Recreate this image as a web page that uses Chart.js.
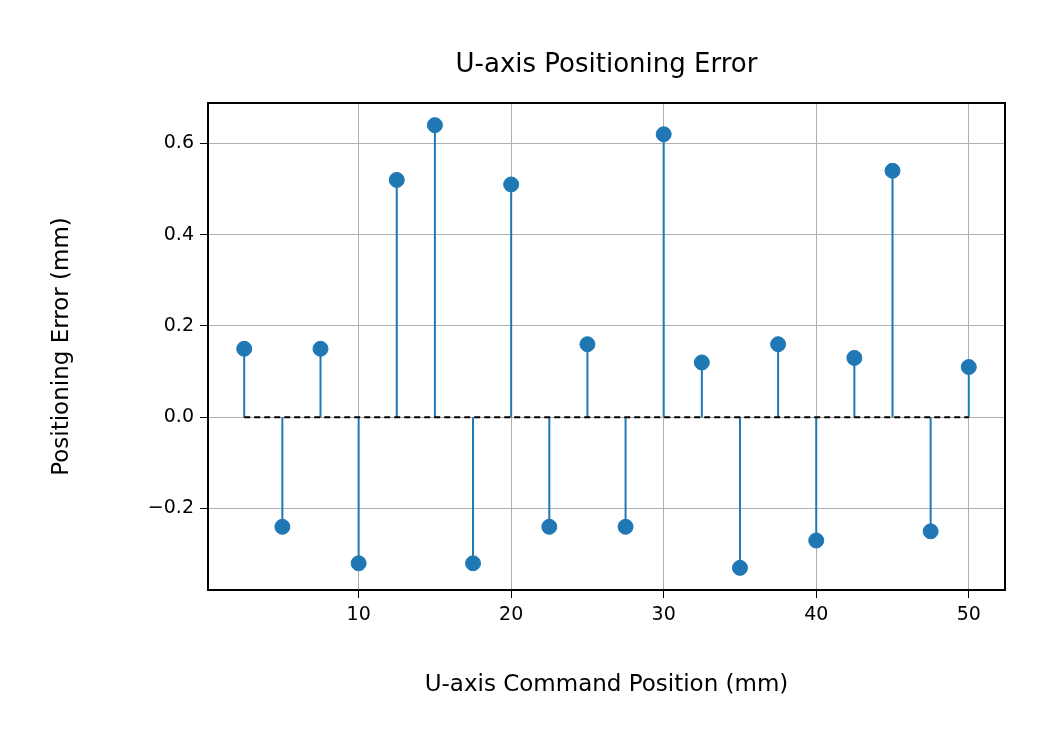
<!DOCTYPE html>
<html><head><meta charset="utf-8">
<script src="https://cdn.jsdelivr.net/npm/chart.js@4/dist/chart.umd.min.js"></script>
<style>html,body{margin:0;padding:0;background:#fff}#w{width:1050px;height:750px}</style>
</head><body><div id="w"><canvas id="c"></canvas></div>
<script>
const positions = [2.5,5,7.5,10,12.5,15,17.5,20,22.5,25,27.5,30,32.5,35,37.5,40,42.5,45,47.5,50];
const errors = [0.15,-0.24,0.15,-0.32,0.52,0.64,-0.32,0.51,-0.24,0.16,-0.24,0.62,0.12,-0.33,0.16,-0.27,0.13,0.54,-0.25,0.11];
const xTicks = [10,20,30,40,50];
const yTicks = [-0.2,0,0.2,0.4,0.6];
const titleText = 'U-axis Positioning Error';
const xTitle = 'U-axis Command Position (mm)';
const yTitle = 'Positioning Error (mm)';
const blue = '#1f77b4';
const F = 'DejaVu Sans';
const stems = {
  id:'stems',
  beforeDatasetsDraw(chart){
    const {ctx, scales:{x,y}} = chart;
    ctx.save(); ctx.strokeStyle = blue; ctx.lineWidth = 2;
    const y0 = y.getPixelForValue(0);
    positions.forEach((p,i)=>{
      const px = x.getPixelForValue(p);
      ctx.beginPath(); ctx.moveTo(px,y0); ctx.lineTo(px,y.getPixelForValue(errors[i])); ctx.stroke();
    });
    ctx.restore();
  }
};
const frame = {
  id:'frame',
  afterDraw(chart){
    const {ctx, chartArea:a} = chart;
    ctx.save(); ctx.strokeStyle='#000'; ctx.lineWidth=2;
    ctx.strokeRect(a.left,a.top,a.right-a.left,a.bottom-a.top);
    ctx.fillStyle='#000'; ctx.textAlign='center'; ctx.textBaseline='middle';
    const cx=(a.left+a.right)/2, cy=(a.top+a.bottom)/2;
    ctx.font='26px "'+F+'"'; ctx.fillText(titleText,cx,65);
    ctx.font='23px "'+F+'"'; ctx.fillText(xTitle,cx,685);
    ctx.translate(62,cy); ctx.rotate(-Math.PI/2); ctx.fillText(yTitle,0,0);
    ctx.restore();
  }
};
new Chart(document.getElementById('c'), {
  type:'scatter',
  data:{datasets:[
    {data:positions.map((p,i)=>({x:p,y:errors[i]})), backgroundColor:blue, borderColor:blue, pointRadius:7.5, pointHoverRadius:7.5, order:1},
    {type:'line', data:[{x:positions[0],y:0},{x:positions[positions.length-1],y:0}], borderColor:'#000', borderWidth:2, borderDash:[6,4], pointRadius:0, order:0}
  ]},
  options:{
    responsive:true, maintainAspectRatio:false, animation:false,
    layout:{padding:{left:0,right:45,top:103,bottom:0}},
    plugins:{legend:{display:false}, tooltip:{enabled:false}, title:{display:false}},
    scales:{
      x:{type:'linear', min:0.125, max:52.375,
        afterBuildTicks(s){s.ticks = xTicks.map(v=>({value:v}));},
        afterFit(s){s.height=160;},
        grid:{color:'#b0b0b0', lineWidth:1, tickLength:8, tickColor:'#000'}, border:{display:false},
        ticks:{color:'#000', font:{family:F,size:19}, padding:6}},
      y:{min:-0.3785, max:0.6885,
        afterBuildTicks(s){s.ticks = yTicks.map(v=>({value:v}));},
        afterFit(s){s.width=208;},
        grid:{color:'#b0b0b0', lineWidth:1, tickLength:8, tickColor:'#000'}, border:{display:false},
        ticks:{color:'#000', font:{family:F,size:19}, padding:6, callback:v=>(v<0?'\u2212':'')+Math.abs(v).toFixed(1)}}
    }
  },
  plugins:[stems, frame]
});
</script></body></html>
